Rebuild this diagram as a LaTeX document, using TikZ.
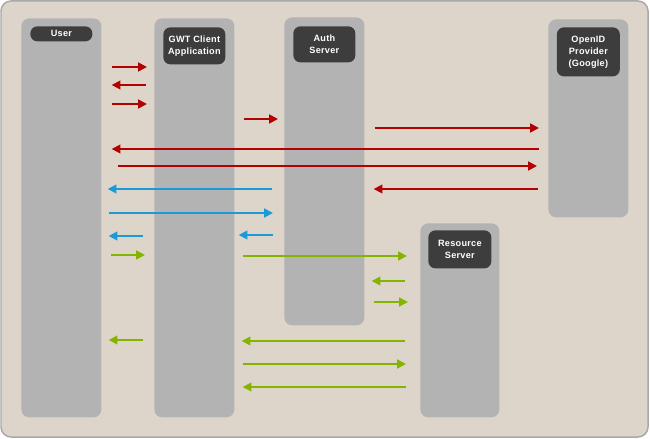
\documentclass[tikz,border=0pt]{standalone}
\usepackage{fontspec}
\newfontfamily\hdfont[LetterSpace=3]{Liberation Sans}
\usetikzlibrary{positioning,arrows.meta}
\newdimen\px \px=0.02cm
\definecolor{bgbeige}{HTML}{DED5CA}
\definecolor{framegray}{HTML}{A9A9A9}
\definecolor{lanegray}{HTML}{B3B3B3}
\definecolor{headdark}{HTML}{3D3D3D}
\definecolor{msgred}{HTML}{B30000}
\definecolor{msgblue}{HTML}{1B9AD8}
\definecolor{msggreen}{HTML}{84B400}
\tikzset{
  lane/.style={fill=lanegray, rounded corners=4.5pt, inner sep=0pt, anchor=north west},
  head/.style={fill=headdark, text=white, rounded corners=4pt, inner sep=0pt,
    minimum width=62\px, align=center,
    font=\hdfont\bfseries\fontsize{5.2}{6.8}\selectfont},
  msg/.style={line width=1.8\px, -{Triangle[length=5pt,width=5pt]}},
  redmsg/.style={msg, draw=msgred},
  bluemsg/.style={msg, draw=msgblue},
  greenmsg/.style={msg, draw=msggreen}
}
\begin{document}
\begin{tikzpicture}[x=0.02cm,y=-0.02cm]
\useasboundingbox (0,0) rectangle (650,439);
\draw[framegray, line width=1.5\px, fill=bgbeige, rounded corners=10\px] (1,1) rectangle (648,437);
% lifelines
\node[lane, minimum width=80\px, minimum height=399\px] (user) at (21,18) {};
\node[lane, minimum width=80\px, minimum height=399\px] (gwt) at (154,18) {};
\node[lane, minimum width=80\px, minimum height=308\px] (auth) at (284,17) {};
\node[lane, minimum width=80\px, minimum height=198\px] (openid) at (548,19) {};
\node[lane, minimum width=79\px, minimum height=194\px] (resource) at (420,223) {};
% headers
\node[head, below=8\px of user.north, minimum height=15\px, rounded corners=7\px] (userhd) {User};
\node[head, below=9\px of gwt.north, minimum height=37\px] (gwthd) {GWT Client\\Application};
\node[head, below=9\px of auth.north, minimum height=36\px] (authhd) {Auth\\Server};
\node[head, below=8\px of openid.north, minimum height=49\px, minimum width=63\px] (openidhd) {OpenID\\Provider\\(Google)};
\node[head, below=7\px of resource.north, minimum height=38\px, minimum width=63\px] (resourcehd) {Resource\\Server};
% messages to the right
\foreach \c/\a/\b/\y/\p/\q in {redmsg/user/gwt/67/10/7, redmsg/user/gwt/104/10/7,
    redmsg/gwt/auth/119/9/6, redmsg/auth/openid/128/10/9, redmsg/user/openid/166/16/11,
    bluemsg/user/auth/213/7/11, greenmsg/user/gwt/255/9/9, greenmsg/gwt/resource/256/8/13,
    greenmsg/auth/resource/302/9/12, greenmsg/gwt/resource/364/8/14}
  \draw[\c, shorten <=\p\px, shorten >=\q\px] (\a.east |- 0,\y) -- (\b.west |- 0,\y);
% messages to the left
\foreach \c/\a/\b/\y/\p/\q in {redmsg/gwt/user/85/8/10, redmsg/openid/user/149/9/10,
    redmsg/openid/auth/189/10/9, bluemsg/auth/user/189/12/6, bluemsg/gwt/user/236/11/7,
    bluemsg/auth/gwt/235/11/4, greenmsg/resource/auth/281/15/7, greenmsg/gwt/user/340/11/7,
    greenmsg/resource/gwt/341/15/7, greenmsg/resource/gwt/387/14/8}
  \draw[\c, shorten <=\p\px, shorten >=\q\px] (\a.west |- 0,\y) -- (\b.east |- 0,\y);
\end{tikzpicture}
\end{document}
